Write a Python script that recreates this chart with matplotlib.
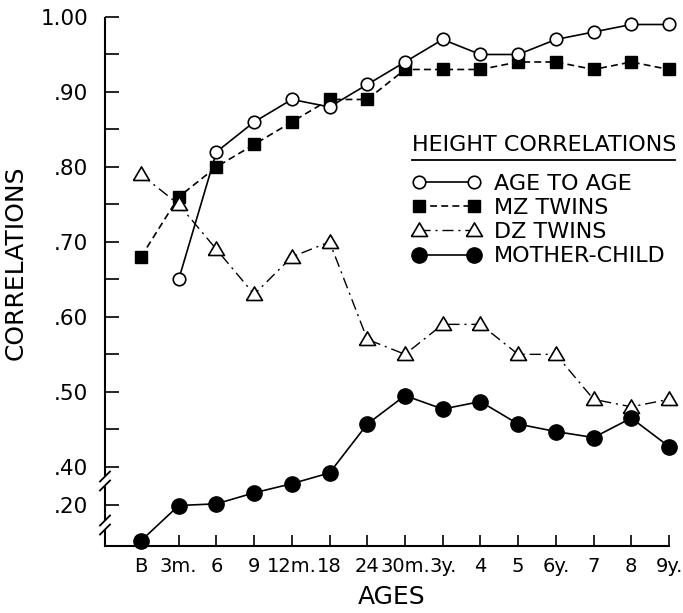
import numpy as np
import matplotlib
matplotlib.use("Agg")
import matplotlib.pyplot as plt
from matplotlib.scale import FuncScale
from matplotlib.lines import Line2D

plt.rcParams['font.family'] = ['DejaVu Sans']
plt.rcParams['lines.scale_dashes'] = False

ages = ["B", "3m.", "6", "9", "12m.", "18", "24", "30m.", "3y.", "4", "5",
        "6y.", "7", "8", "9y."]
age_to_age = [None, .65, .82, .86, .89, .88, .91, .94, .97, .95, .95, .97, .98, .99, .99]
mz_twins = [.68, .76, .80, .83, .86, .89, .89, .93, .93, .93, .94, .94, .93, .94, .93]
dz_twins = [.79, .75, .69, .63, .68, .70, .57, .55, .59, .59, .55, .55, .49, .48, .49]
mother_child = [.152, .199, .205, .263, .311, .368, .457, .495, .477, .487, .457,
                .447, .439, .465, .427]
series_names = ["AGE TO AGE", "MZ TWINS", "DZ TWINS", "MOTHER-CHILD"]
legend_title = "HEIGHT CORRELATIONS"

ytick_vals = [.20, .40, .50, .60, .70, .80, .90, 1.00]
ytick_labels = [".20", ".40", ".50", ".60", ".70", ".80", ".90", "1.00"]
yminor_vals = [.45, .55, .65, .75, .85, .95]

# broken axis: the range .20-.40 is compressed
gap_bot = 0.40 - 38 / 750.0
_data = [0.0, 0.20, 0.40, 1.2]
_disp = [gap_bot - 0.20, gap_bot, 0.40, 1.2]

def fwd(y):
    return np.interp(y, _data, _disp)

def inv(t):
    return np.interp(t, _disp, _data)

W, H = 683, 613
fig = plt.figure(figsize=(W / 100, H / 100), dpi=100)
ax = fig.add_axes([105 / W, 1 - 546 / H, (669 - 105) / W, (546 - 17) / H])
ax.set_yscale(FuncScale(ax, (fwd, inv)))

x = np.arange(len(ages))
lw = 1.2

xa = [i for i, v in enumerate(age_to_age) if v is not None]
ya = [v for v in age_to_age if v is not None]

l1, = ax.plot(xa, ya, '-', color='black', lw=lw, marker='o', ms=9,
              mfc='white', mec='black', mew=1.2, zorder=4, clip_on=False)
l2, = ax.plot(x, mz_twins, color='black', lw=lw, marker='s', ms=9,
              mfc='black', mec='black', zorder=3, clip_on=False)
l2.set_dashes((5, 3))
tri = [(-1, -0.75), (1, -0.75), (0, 0.95), (-1, -0.75)]
l3, = ax.plot(x, dz_twins, color='black', lw=1.0, marker=tri, ms=11.5,
              mfc='white', mec='black', mew=1.2, zorder=3, clip_on=False)
l3.set_dashes((8, 3.5, 1.5, 3.5))
l4, = ax.plot(x, mother_child, '-', color='black', lw=lw, marker='o', ms=11,
              mfc='black', mec='black', zorder=3, clip_on=False)

ax.set_xlim(-0.955, 14.0)
ax.set_ylim(0.145, 1.0)

ax.set_xticks(x)
ax.set_xticklabels(ages, fontsize=14)
ax.set_yticks(ytick_vals)
ax.set_yticklabels(ytick_labels, fontsize=15.5)
ax.set_yticks(yminor_vals, minor=True)
ax.tick_params(axis='y', which='both', direction='in', length=10, width=1.2, pad=12)
ax.tick_params(axis='x', which='both', direction='in', length=8, width=1.2, pad=8)

for s in ['top', 'right', 'left']:
    ax.spines[s].set_visible(False)
ax.spines['bottom'].set_linewidth(1.5)

# left axis line with two breaks (axes-fraction coordinates)
px_y = 1.0 / (546 - 17)
px_x = 1.0 / (669 - 105)
b1 = (546 - 481) * px_y
b2 = (546 - 525) * px_y
g = 4.5 * px_y
segs = [(1.0, b1 + g), (b1 - g, b2 + g), (b2 - g, 0.0)]
for top, bot in segs:
    ax.plot([0, 0], [bot, top], color='black', lw=1.5, transform=ax.transAxes,
            clip_on=False, solid_capstyle='butt')
for b in (b1, b2):
    for off in (g, -g):
        yc = b + off
        ax.plot([-5 * px_x, 5 * px_x], [yc - 5 * px_y, yc + 5 * px_y], color='black',
                lw=1.3, transform=ax.transAxes, clip_on=False)

fig.text(16 / W, 1 - 263 / H, "CORRELATIONS", rotation=90, fontsize=18,
         ha='center', va='center')
fig.text(392 / W, 1 - 597 / H, "AGES", fontsize=18, ha='center', va='center')

fig.text(412 / W, 1 - 145 / H, legend_title, fontsize=16, ha='left', va='center')
fig.add_artist(Line2D([412 / W, 675 / W], [1 - 160 / H] * 2, color='black', lw=1.3))

leg = ax.legend([l1, l2, l3, l4], series_names, fontsize=16,
                loc='center left', bbox_to_anchor=(412 / W, 1 - 220 / H),
                bbox_transform=fig.transFigure, frameon=False, numpoints=2,
                handlelength=3.08, handletextpad=0.6, labelspacing=0.19,
                borderpad=0, borderaxespad=0)

fig.savefig("out.png", dpi=100)
